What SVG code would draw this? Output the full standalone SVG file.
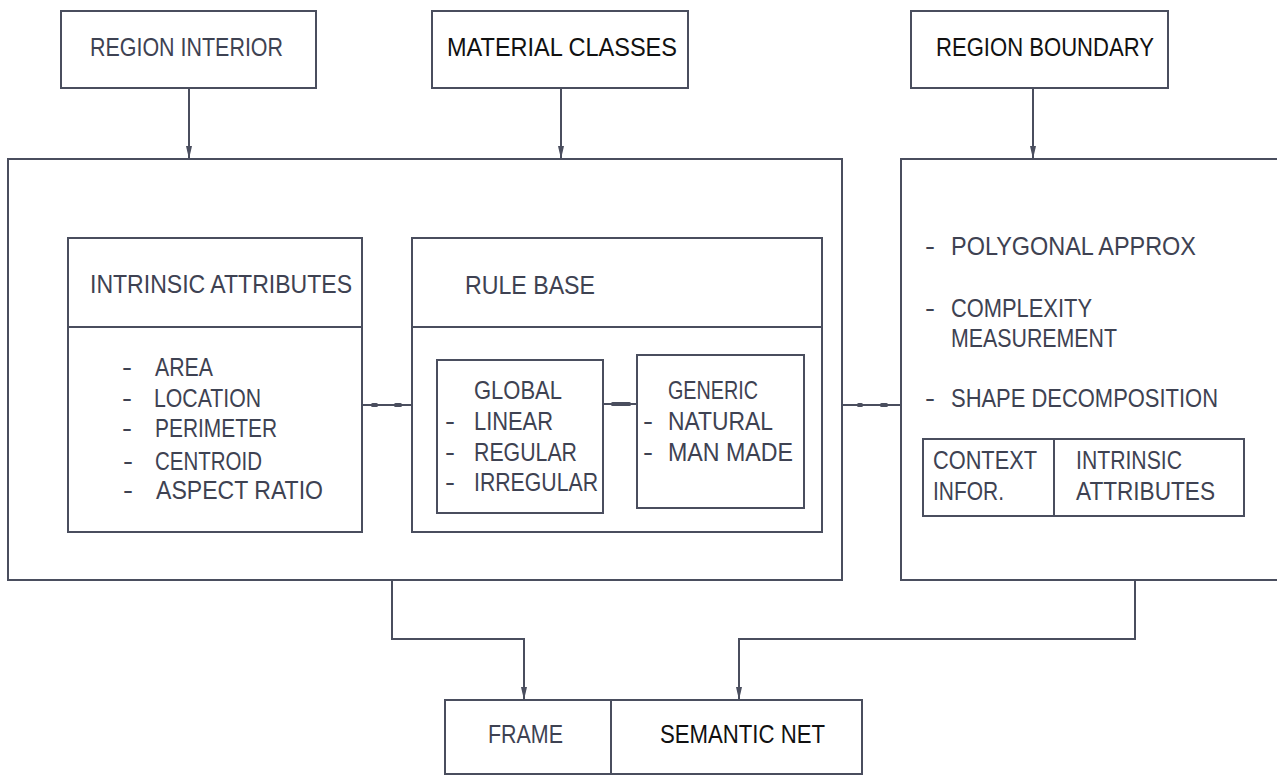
<svg xmlns="http://www.w3.org/2000/svg" width="1277" height="776" viewBox="0 0 1277 776">
<style>
  .box { fill: none; stroke: #4a4e5e; stroke-width: 2; }
  .ln { fill: none; stroke: #4a4e5e; stroke-width: 2; }
  .t { font-family: "Liberation Sans", Arial, sans-serif; font-size: 25px; fill: #3e4252; }
  .k { fill: #111111; }
  .mk { fill: #4a4e5e; }
</style>
<defs>
  <marker id="arr" viewBox="-1 -4 15 8" refX="13" refY="0" markerWidth="15" markerHeight="8" markerUnits="userSpaceOnUse" orient="auto">
    <path d="M0,-3 L13,0 L0,3 Z" fill="#4a4e5e"/>
  </marker>
</defs>
<rect width="1277" height="776" fill="#ffffff"/>

<g id="region-interior">
  <rect class="box" x="61" y="11" width="255" height="77"/>
  <text class="t" x="90" y="56" textLength="193" lengthAdjust="spacingAndGlyphs">REGION INTERIOR</text>
</g>
<g id="material-classes">
  <rect class="box" x="432" y="11" width="256" height="77"/>
  <text class="t k" x="447" y="56" textLength="230" lengthAdjust="spacingAndGlyphs">MATERIAL CLASSES</text>
</g>
<g id="region-boundary">
  <rect class="box" x="911" y="11" width="257" height="77"/>
  <text class="t k" x="936" y="56" textLength="218" lengthAdjust="spacingAndGlyphs">REGION BOUNDARY</text>
</g>

<g id="main-box">
  <rect class="box" x="8" y="159" width="834" height="421"/>
</g>

<g id="intrinsic-attributes">
  <rect class="box" x="68" y="238" width="294" height="294"/>
  <line class="ln" x1="68" y1="327" x2="362" y2="327"/>
  <text class="t" x="90" y="293" textLength="262" lengthAdjust="spacingAndGlyphs">INTRINSIC ATTRIBUTES</text>
  <text class="t" x="122" y="376" textLength="10" lengthAdjust="spacingAndGlyphs">-</text>
  <text class="t" x="155" y="376" textLength="58" lengthAdjust="spacingAndGlyphs">AREA</text>
  <text class="t" x="122" y="407" textLength="10" lengthAdjust="spacingAndGlyphs">-</text>
  <text class="t" x="154" y="407" textLength="107" lengthAdjust="spacingAndGlyphs">LOCATION</text>
  <text class="t" x="122" y="437" textLength="10" lengthAdjust="spacingAndGlyphs">-</text>
  <text class="t" x="155" y="437" textLength="122" lengthAdjust="spacingAndGlyphs">PERIMETER</text>
  <text class="t" x="123" y="470" textLength="10" lengthAdjust="spacingAndGlyphs">-</text>
  <text class="t" x="155" y="470" textLength="107" lengthAdjust="spacingAndGlyphs">CENTROID</text>
  <text class="t" x="123" y="499" textLength="10" lengthAdjust="spacingAndGlyphs">-</text>
  <text class="t" x="156" y="499" textLength="167" lengthAdjust="spacingAndGlyphs">ASPECT RATIO</text>
</g>

<g id="rule-base">
  <rect class="box" x="412" y="238" width="410" height="294"/>
  <line class="ln" x1="412" y1="327" x2="822" y2="327"/>
  <text class="t" x="465" y="294" textLength="130" lengthAdjust="spacingAndGlyphs">RULE BASE</text>
</g>

<g id="global">
  <rect class="box" x="437" y="360" width="166" height="153"/>
  <text class="t" x="474" y="399" textLength="88" lengthAdjust="spacingAndGlyphs">GLOBAL</text>
  <text class="t" x="445" y="430" textLength="10" lengthAdjust="spacingAndGlyphs">-</text>
  <text class="t" x="474" y="430" textLength="79" lengthAdjust="spacingAndGlyphs">LINEAR</text>
  <text class="t" x="445" y="461" textLength="10" lengthAdjust="spacingAndGlyphs">-</text>
  <text class="t" x="474" y="461" textLength="103" lengthAdjust="spacingAndGlyphs">REGULAR</text>
  <text class="t" x="445" y="491" textLength="10" lengthAdjust="spacingAndGlyphs">-</text>
  <text class="t" x="474" y="491" textLength="124" lengthAdjust="spacingAndGlyphs">IRREGULAR</text>
</g>

<g id="generic">
  <rect class="box" x="637" y="355" width="167" height="153"/>
  <text class="t" x="668" y="399" textLength="90" lengthAdjust="spacingAndGlyphs">GENERIC</text>
  <text class="t" x="643" y="430" textLength="10" lengthAdjust="spacingAndGlyphs">-</text>
  <text class="t" x="668" y="430" textLength="105" lengthAdjust="spacingAndGlyphs">NATURAL</text>
  <text class="t" x="643" y="461" textLength="10" lengthAdjust="spacingAndGlyphs">-</text>
  <text class="t" x="668" y="461" textLength="125" lengthAdjust="spacingAndGlyphs">MAN MADE</text>
</g>

<g id="boundary-box">
  <path class="ln" d="M1278 159 H901 V580 H1278"/>
  <text class="t" x="925" y="255" textLength="10" lengthAdjust="spacingAndGlyphs">-</text>
  <text class="t" x="951" y="255" textLength="245" lengthAdjust="spacingAndGlyphs">POLYGONAL APPROX</text>
  <text class="t" x="925" y="317" textLength="10" lengthAdjust="spacingAndGlyphs">-</text>
  <text class="t" x="951" y="317" textLength="141" lengthAdjust="spacingAndGlyphs">COMPLEXITY</text>
  <text class="t" x="951" y="347" textLength="166" lengthAdjust="spacingAndGlyphs">MEASUREMENT</text>
  <text class="t" x="925" y="407" textLength="10" lengthAdjust="spacingAndGlyphs">-</text>
  <text class="t" x="951" y="407" textLength="267" lengthAdjust="spacingAndGlyphs">SHAPE DECOMPOSITION</text>
</g>

<g id="context-box">
  <rect class="box" x="923" y="439" width="321" height="77"/>
  <line class="ln" x1="1054" y1="439" x2="1054" y2="516"/>
  <text class="t" x="933" y="469" textLength="104" lengthAdjust="spacingAndGlyphs">CONTEXT</text>
  <text class="t" x="933" y="500" textLength="71" lengthAdjust="spacingAndGlyphs">INFOR.</text>
  <text class="t" x="1076" y="469" textLength="106" lengthAdjust="spacingAndGlyphs">INTRINSIC</text>
  <text class="t" x="1076" y="500" textLength="139" lengthAdjust="spacingAndGlyphs">ATTRIBUTES</text>
</g>

<g id="frame">
  <rect class="box" x="445" y="700" width="166" height="74"/>
  <text class="t" x="488" y="743" textLength="75" lengthAdjust="spacingAndGlyphs">FRAME</text>
</g>
<g id="semantic-net">
  <rect class="box" x="611" y="700" width="251" height="74"/>
  <text class="t k" x="660" y="743" textLength="165" lengthAdjust="spacingAndGlyphs">SEMANTIC NET</text>
</g>

<g id="connectors">
  <line class="ln" x1="189" y1="88" x2="189" y2="159" marker-end="url(#arr)"/>
  <line class="ln" x1="561" y1="88" x2="561" y2="159" marker-end="url(#arr)"/>
  <line class="ln" x1="1033" y1="88" x2="1033" y2="159" marker-end="url(#arr)"/>
  <line class="ln" x1="362" y1="405" x2="412" y2="405"/>
  <rect class="mk" x="371" y="403" width="7" height="4" rx="1.5"/>
  <rect class="mk" x="394" y="403" width="8" height="4" rx="1.5"/>
  <line class="ln" x1="603" y1="404" x2="637" y2="404"/>
  <rect class="mk" x="611" y="402" width="20" height="4" rx="1.5"/>
  <line class="ln" x1="842" y1="405" x2="901" y2="405"/>
  <rect class="mk" x="857" y="403" width="6" height="4" rx="1.5"/>
  <rect class="mk" x="880" y="403" width="8" height="4" rx="1.5"/>
  <path class="ln" d="M392 580 V639 H524 V700" marker-end="url(#arr)"/>
  <path class="ln" d="M1135 580 V639 H739 V700" marker-end="url(#arr)"/>
</g>
</svg>
